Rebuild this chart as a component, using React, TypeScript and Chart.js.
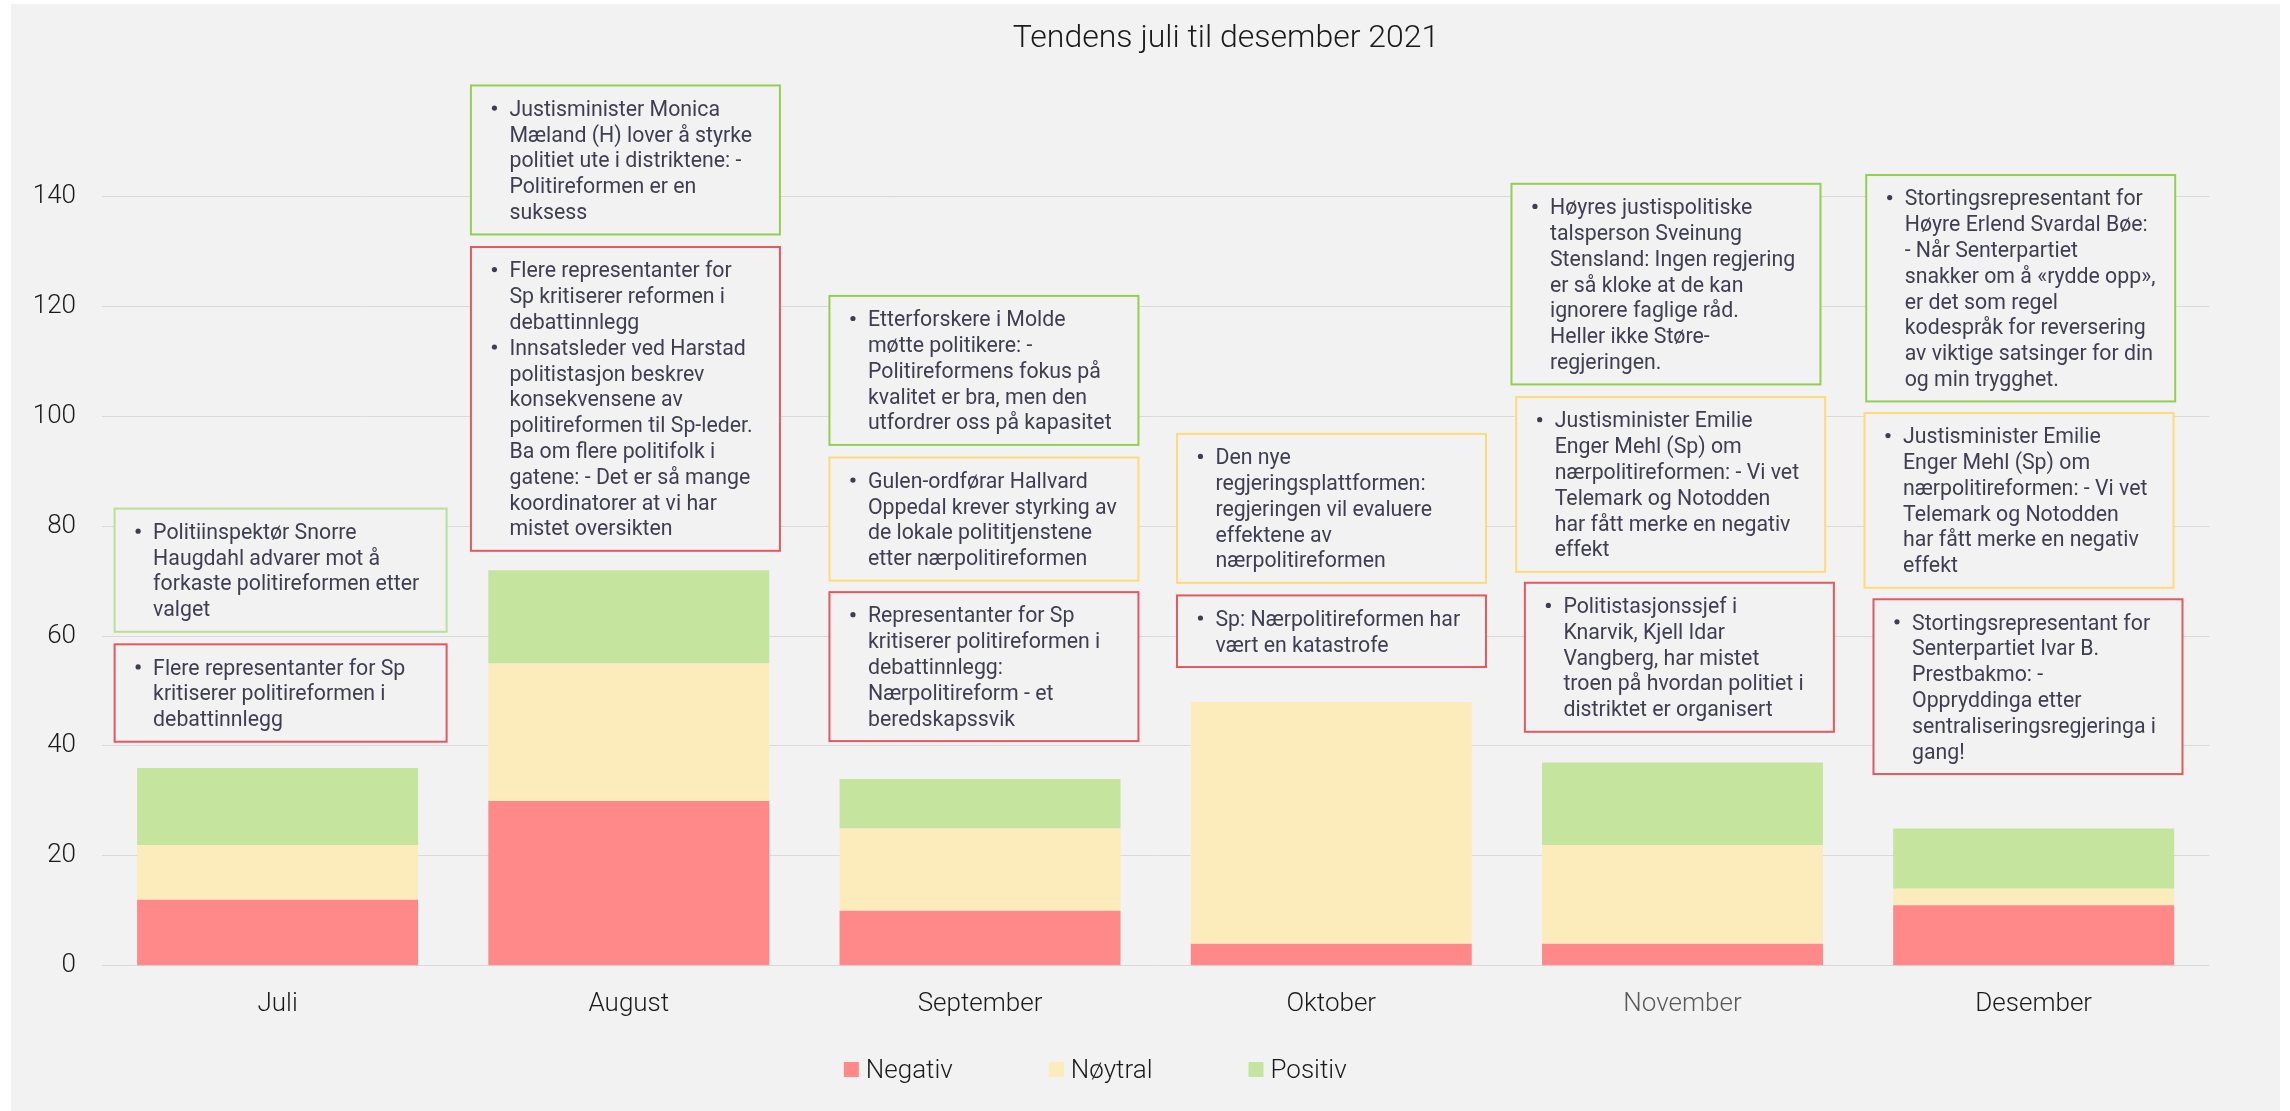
import React, { useEffect, useRef } from "react";
import { Chart, registerables } from "chart.js";

Chart.register(...registerables);

// ---------- data ----------
const categories = ["Juli", "August", "September", "Oktober", "November", "Desember"];
const seriesNames = ["Negativ", "Nøytral", "Positiv"];
const negativ = [12, 30, 10, 4, 4, 11];
const noytral = [10, 25, 15, 44, 18, 3];
const positiv = [14, 17, 9, 0, 15, 11];
const yTickValues = [0, 20, 40, 60, 80, 100, 120, 140];
const chartTitle = "Tendens juli til desember 2021";

type Tone = "neg" | "neu" | "pos";
type Note = { month: number; tone: Tone; bullets: string[][] };

const notes: Note[] = [
  { month: 0, tone: "pos", bullets: [["Politiinspektør Snorre", "Haugdahl advarer mot å", "forkaste politireformen etter", "valget"]] },
  { month: 0, tone: "neg", bullets: [["Flere representanter for Sp", "kritiserer politireformen i", "debattinnlegg"]] },
  { month: 1, tone: "pos", bullets: [["Justisminister Monica", "Mæland (H) lover å styrke", "politiet ute i distriktene: -", "Politireformen er en", "suksess"]] },
  {
    month: 1,
    tone: "neg",
    bullets: [
      ["Flere representanter for", "Sp kritiserer reformen i", "debattinnlegg"],
      ["Innsatsleder ved Harstad", "politistasjon beskrev", "konsekvensene av", "politireformen til Sp-leder.", "Ba om flere politifolk i", "gatene: - Det er så mange", "koordinatorer at vi har", "mistet oversikten"],
    ],
  },
  { month: 2, tone: "pos", bullets: [["Etterforskere i Molde", "møtte politikere: -", "Politireformens fokus på", "kvalitet er bra, men den", "utfordrer oss på kapasitet"]] },
  { month: 2, tone: "neu", bullets: [["Gulen-ordførar Hallvard", "Oppedal krever styrking av", "de lokale polititjenstene", "etter nærpolitireformen"]] },
  { month: 2, tone: "neg", bullets: [["Representanter for Sp", "kritiserer politireformen i", "debattinnlegg:", "Nærpolitireform - et", "beredskapssvik"]] },
  { month: 3, tone: "neu", bullets: [["Den nye", "regjeringsplattformen:", "regjeringen vil evaluere", "effektene av", "nærpolitireformen"]] },
  { month: 3, tone: "neg", bullets: [["Sp: Nærpolitireformen har", "vært en katastrofe"]] },
  { month: 4, tone: "pos", bullets: [["Høyres justispolitiske", "talsperson Sveinung", "Stensland: Ingen regjering", "er så kloke at de kan", "ignorere faglige råd.", "Heller ikke Støre-", "regjeringen."]] },
  { month: 4, tone: "neu", bullets: [["Justisminister Emilie", "Enger Mehl (Sp) om", "nærpolitireformen: - Vi vet", "Telemark og Notodden", "har fått merke en negativ", "effekt"]] },
  { month: 4, tone: "neg", bullets: [["Politistasjonssjef i", "Knarvik, Kjell Idar", "Vangberg, har mistet", "troen på hvordan politiet i", "distriktet er organisert"]] },
  { month: 5, tone: "pos", bullets: [["Stortingsrepresentant for", "Høyre Erlend Svardal Bøe:", "- Når Senterpartiet", "snakker om å «rydde opp»,", "er det som regel", "kodespråk for reversering", "av viktige satsinger for din", "og min trygghet."]] },
  { month: 5, tone: "neu", bullets: [["Justisminister Emilie", "Enger Mehl (Sp) om", "nærpolitireformen: - Vi vet", "Telemark og Notodden", "har fått merke en negativ", "effekt"]] },
  { month: 5, tone: "neg", bullets: [["Stortingsrepresentant for", "Senterpartiet Ivar B.", "Prestbakmo: -", "Oppryddinga etter", "sentraliseringsregjeringa i", "gang!"]] },
];

// ---------- layout / styles ----------
const seriesColors = ["#FF8888", "#FCEBBB", "#C5E49D"];
const toneColors: Record<Tone, string> = { neg: "#E15A61", neu: "#FFD97A", pos: "#92D050" };
// per note: horizontal offset from category centre (px), top edge in axis units, width (px), optional border override
const noteLayout = [
  { dx: 3, top: 83.2, width: 332, border: "#BADF98" },
  { dx: 3, top: 58.5, width: 332 },
  { dx: -3.4, top: 160.2, width: 309 },
  { dx: -3.4, top: 130.8, width: 309 },
  { dx: 3.9, top: 121.9, width: 309 },
  { dx: 3.9, top: 92.5, width: 309 },
  { dx: 3.9, top: 68.0, width: 309 },
  { dx: 0.2, top: 96.8, width: 309 },
  { dx: 0.2, top: 67.4, width: 309 },
  { dx: -16.5, top: 142.3, width: 309 },
  { dx: -11.8, top: 103.5, width: 309 },
  { dx: -3.1, top: 69.7, width: 309 },
  { dx: -13, top: 143.9, width: 309 },
  { dx: -14.7, top: 100.6, width: 309 },
  { dx: -5.7, top: 66.7, width: 309 },
];
const PANEL_BG = "#F2F2F2";
const CANVAS_W = 2269;
const CANVAS_H = 1107;

const notesPlugin = {
  id: "notes",
  afterDraw(chart: any) {
    const { ctx, scales } = chart;
    const xs = scales.x;
    const ys = scales.y;
    const lineH = 25.8;
    ctx.save();
    notes.forEach((n, i) => {
      const L: any = noteLayout[i];
      const cx = xs.getPixelForValue(n.month) + L.dx;
      const left = cx - L.width / 2;
      const top = ys.getPixelForValue(L.top);
      const lineCount = n.bullets.reduce((s, b) => s + b.length, 0);
      const h = lineCount * lineH + 20;
      ctx.fillStyle = PANEL_BG;
      ctx.fillRect(left, top, L.width, h);
      ctx.strokeStyle = L.border || toneColors[n.tone];
      ctx.lineWidth = 2;
      ctx.strokeRect(left, top, L.width, h);
      ctx.font = "400 21.3px Roboto";
      ctx.fillStyle = "#3E3E50";
      ctx.textAlign = "left";
      ctx.textBaseline = "alphabetic";
      let k = 0;
      n.bullets.forEach((b) => {
        b.forEach((line, j) => {
          const base = top + 30.3 + k * lineH;
          if (j === 0) {
            ctx.beginPath();
            ctx.arc(left + 23.5, base - 7.7, 2.6, 0, Math.PI * 2);
            ctx.fill();
          }
          ctx.fillText(line, left + 38.5, base);
          k++;
        });
      });
    });
    ctx.restore();
  },
};

const titlePlugin = {
  id: "offsetTitle",
  afterDraw(chart: any) {
    const { ctx } = chart;
    ctx.save();
    ctx.font = "300 32px Roboto";
    ctx.fillStyle = "#1A1A1A";
    ctx.textAlign = "center";
    ctx.textBaseline = "alphabetic";
    ctx.fillText(chartTitle, 1215, 42.7);
    ctx.restore();
  },
};

const legendPlugin = {
  id: "customLegend",
  afterDraw(chart: any) {
    const { ctx } = chart;
    ctx.save();
    ctx.font = "300 26px Roboto";
    ctx.textAlign = "left";
    ctx.textBaseline = "alphabetic";
    let x = 832.8;
    const boxTop = 1058;
    chart.data.datasets.forEach((ds: any) => {
      ctx.fillStyle = ds.backgroundColor;
      ctx.fillRect(x, boxTop, 15, 15);
      x += 15 + 7;
      ctx.fillStyle = "#1A1A1A";
      ctx.fillText(ds.label, x, 1074.3);
      x += ctx.measureText(ds.label).width + 96;
    });
    ctx.restore();
  },
};

export default function App() {
  const ref = useRef<HTMLCanvasElement | null>(null);

  useEffect(() => {
    document.body.style.margin = "0";
    const canvas = ref.current;
    if (!canvas) return;
    const tickFont = { family: "Roboto", size: 26, weight: "300" as any };
    const chart = new Chart(canvas, {
      type: "bar",
      data: {
        labels: categories,
        datasets: [
          { label: seriesNames[0], data: negativ, backgroundColor: seriesColors[0] },
          { label: seriesNames[1], data: noytral, backgroundColor: seriesColors[1] },
          { label: seriesNames[2], data: positiv, backgroundColor: seriesColors[2] },
        ],
      },
      options: {
        animation: false,
        responsive: false,
        devicePixelRatio: 1,
        layout: { padding: { top: 137.5, right: 70.7, bottom: 0, left: 0 } },
        datasets: { bar: { categoryPercentage: 1, barPercentage: 0.8 } } as any,
        plugins: {
          legend: { display: false },
          title: { display: false },
          tooltip: { enabled: false },
        },
        scales: {
          x: {
            stacked: true,
            grid: { display: false },
            border: { display: false },
            ticks: {
              font: tickFont,
              color: categories.map((c) => (c === "November" ? "#5A5A5A" : "#1A1A1A")),
              padding: 15,
              maxRotation: 0,
            },
            afterFit: (s: any) => {
              s.height = CANVAS_H - 961.8;
            },
          },
          y: {
            stacked: true,
            min: 0,
            max: 150,
            ticks: { stepSize: 20, padding: 26, font: tickFont, color: "#1A1A1A" },
            afterBuildTicks: (a: any) => {
              a.ticks = yTickValues.map((v) => ({ value: v }));
            },
            grid: { color: "#D9D9D9", lineWidth: 1, drawTicks: false },
            border: { display: false },
            afterFit: (s: any) => {
              s.width = 91;
            },
          },
        },
      },
      plugins: [notesPlugin, titlePlugin, legendPlugin],
    });
    return () => chart.destroy();
  }, []);

  return (
    <div style={{ position: "relative", width: 2290, height: 1111, background: "#FFFFFF", overflow: "hidden" }}>
      <canvas
        ref={ref}
        width={CANVAS_W}
        height={CANVAS_H}
        style={{ position: "absolute", left: 11, top: 4, width: CANVAS_W, height: CANVAS_H, background: PANEL_BG }}
      />
    </div>
  );
}
